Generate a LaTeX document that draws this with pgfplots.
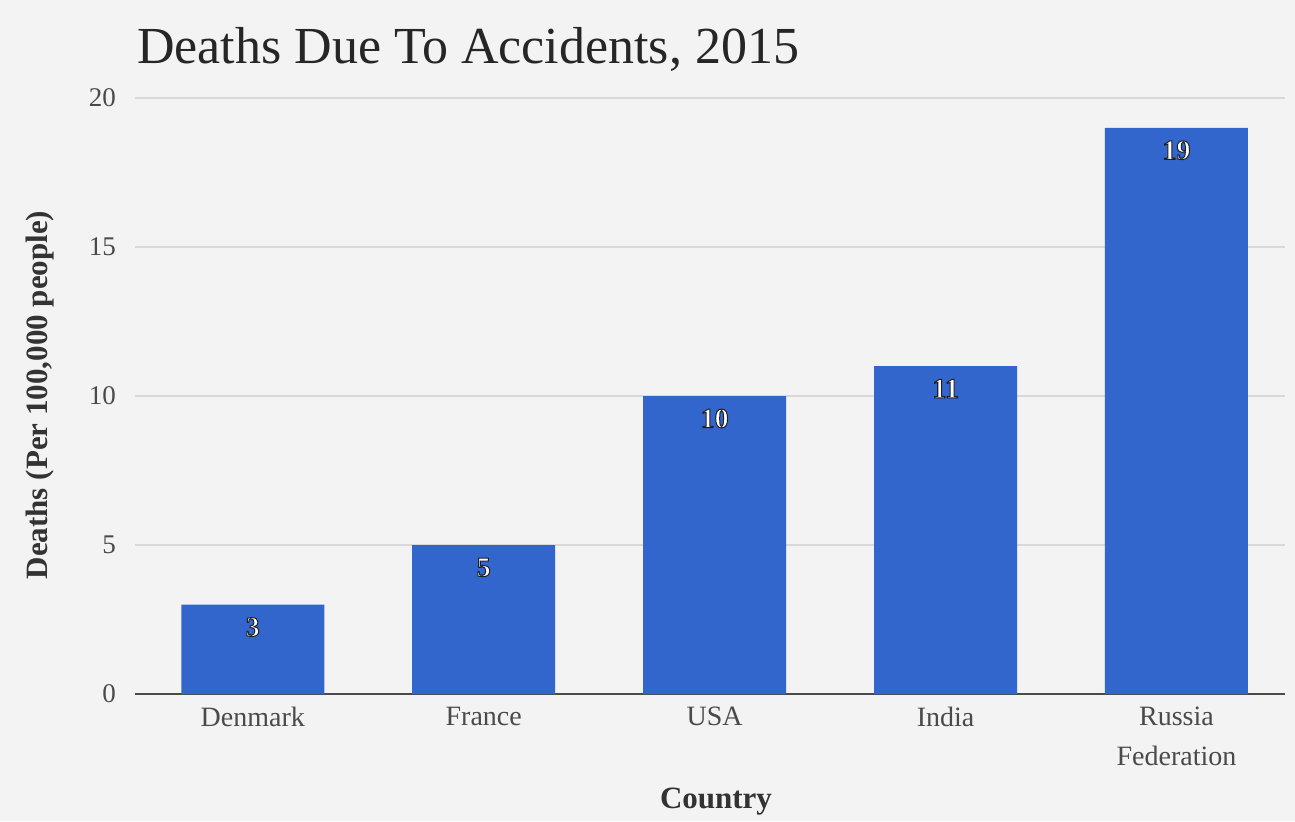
\documentclass[border=0pt]{standalone}
\usepackage{pgfplots}
\pgfplotsset{compat=1.18}
\usepackage{fontspec}
\setmainfont{Liberation Serif}
\definecolor{bg}{HTML}{F3F3F3}
\definecolor{barblue}{HTML}{3366CC}
\definecolor{gridc}{HTML}{D8D8D8}
\definecolor{tickc}{HTML}{4A4A4A}
\newcommand\halo[1]{{\color{white}\special{pdf:literal direct 2 Tr 0.5 w 0.12 0.12 0.12 RG}#1\special{pdf:literal direct 0 Tr}}}
\begin{document}
\begin{tikzpicture}
\useasboundingbox (0,0) rectangle (647.5pt,410.5pt);
\fill[bg] (0,0) rectangle (647.5pt,410.5pt);
\begin{axis}[
  at={(67.5pt,63.5pt)}, anchor=south west,
  scale only axis, width=575pt, height=298pt,
  xmin=-0.51, xmax=4.47, ymin=0, ymax=20,
  ytick={0,5,10,15,20},
  xtick={0,1,2,3,4},
  xticklabels={Denmark,France,USA,India,{Russia\\Federation}},
  xticklabel style={align=center, font=\fontsize{14}{20}\selectfont, text=tickc, yshift=-3pt},
  yticklabel style={font=\fontsize{13.5}{15}\selectfont, text=tickc, xshift=-6pt},
  /pgf/number format/assume math mode=true,
  major tick length=0pt,
  ymajorgrids, grid style={gridc, line width=0.8pt},
  axis x line*=bottom,
  x axis line style={draw=tickc, line width=0.9pt, -},
  y axis line style={draw=none},
  axis background/.style={fill=bg},
  ybar, bar width=71.5pt,
  nodes near coords={\halo{\pgfmathprintnumber{\pgfplotspointmeta}}},
  every node near coord/.append style={anchor=north, yshift=-3pt, font=\fontsize{14}{15}\selectfont\bfseries},
  clip=false,
]
\addplot[fill=barblue, draw=none] coordinates {(0,3) (1,5) (2,10) (3,11) (4,19)};
\end{axis}
\node[anchor=base west, font=\fontsize{26}{30}\selectfont, text=black!85] at (65pt,378.5pt) {Deaths Due To Accidents, 2015};
\node[rotate=90, font=\fontsize{15.5}{18}\selectfont\bfseries, text=black!80] at (20pt,213pt) {Deaths (Per 100,000 people)};
\node[anchor=base, font=\fontsize{15.5}{18}\selectfont\bfseries, text=black!80] at (358pt,6.5pt) {Country};
\end{tikzpicture}
\end{document}
